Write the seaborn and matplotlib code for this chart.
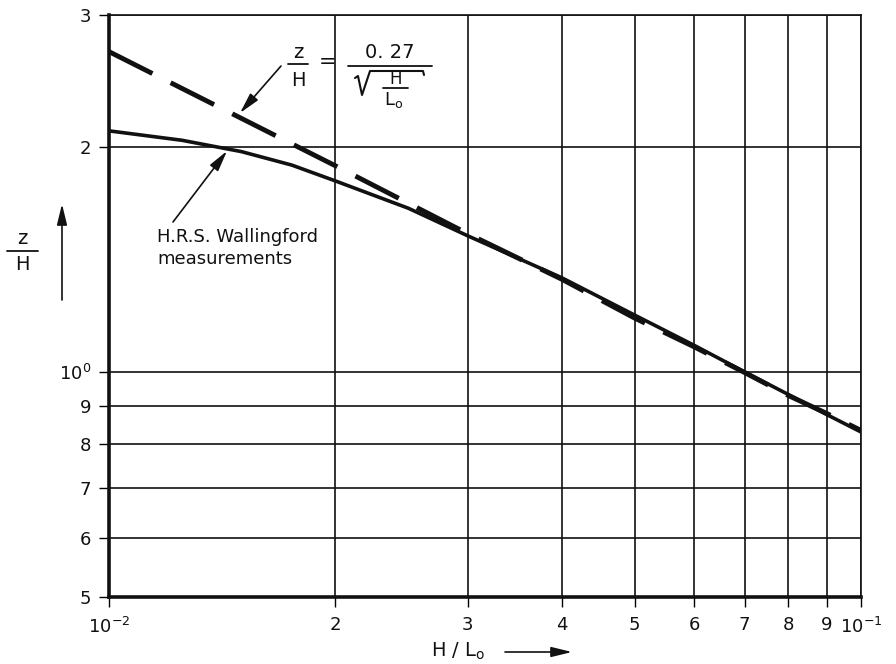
import matplotlib
matplotlib.use("Agg")
import matplotlib.pyplot as plt
from matplotlib.lines import Line2D
import seaborn as sns
import pandas as pd

# ---- data ----
x_measured = [0.010, 0.0125, 0.015, 0.0175, 0.020, 0.025, 0.030, 0.040, 0.050, 0.060, 0.070, 0.080, 0.090, 0.100]
y_measured = [2.10, 2.04, 1.97, 1.89, 1.80, 1.655, 1.52, 1.336, 1.191, 1.085, 1.00, 0.933, 0.877, 0.831]

x_formula = [0.010, 0.020, 0.030, 0.040, 0.050, 0.060, 0.070, 0.080, 0.090, 0.100]
y_formula = [2.68, 1.886, 1.53, 1.33, 1.18, 1.08, 0.998, 0.93, 0.88, 0.835]

xtick_values = [0.01, 0.02, 0.03, 0.04, 0.05, 0.06, 0.07, 0.08, 0.09, 0.1]
xtick_labels = [r"$10^{-2}$", "2", "3", "4", "5", "6", "7", "8", "9", r"$10^{-1}$"]
ytick_values = [0.5, 0.6, 0.7, 0.8, 0.9, 1.0, 2.0, 3.0]
ytick_labels = ["5", "6", "7", "8", "9", r"$10^{0}$", "2", "3"]

series_names = ["H.R.S. Wallingford measurements", "z/H = 0.27/sqrt(H/Lo)"]

df_meas = pd.DataFrame({"x": x_measured, "y": y_measured, "series": series_names[0]})
df_form = pd.DataFrame({"x": x_formula, "y": y_formula, "series": series_names[1]})

sns.set_style("ticks")
plt.rcParams["font.family"] = ["DejaVu Sans"]
plt.rcParams["mathtext.fontset"] = "dejavusans"

INK = "#111111"
W, H = 896, 664
fig = plt.figure(figsize=(W / 100, H / 100), dpi=100)
ax = fig.add_axes([109 / W, 1 - 597 / H, (861 - 109) / W, (597 - 15) / H])

ax.set_xscale("log")
ax.set_yscale("log")

sns.lineplot(data=df_meas, x="x", y="y", ax=ax, color=INK, lw=2.6,
             legend=False, estimator=None, sort=True)
sns.lineplot(data=df_form, x="x", y="y", ax=ax, color=INK, lw=3.5,
             legend=False, estimator=None, sort=True, linestyle=(0, (10, 4.2)))

ax.set_xlim(0.01, 0.1)
ax.set_ylim(0.5, 3.0)
ax.xaxis.set_minor_locator(matplotlib.ticker.NullLocator())
ax.yaxis.set_minor_locator(matplotlib.ticker.NullLocator())
ax.set_xticks(xtick_values)
ax.set_xticklabels(xtick_labels)
ax.set_yticks(ytick_values)
ax.set_yticklabels(ytick_labels)
ax.tick_params(axis="both", which="major", direction="out", length=7, width=1.0,
               color="black", labelsize=13, pad=6, labelcolor=INK)
ax.tick_params(axis="x", pad=7)
ax.grid(True, which="major", color=INK, lw=1.2)
ax.set_axisbelow(True)
ax.set_xlabel("")
ax.set_ylabel("")

for side, lw in [("left", 2.6), ("bottom", 2.6), ("top", 1.2), ("right", 1.2)]:
    ax.spines[side].set_visible(True)
    ax.spines[side].set_linewidth(lw)
    ax.spines[side].set_color(INK)


def fx(px):
    return px / W


def fy(py):
    return 1 - py / H


def ftext(px, py, s, size, **kw):
    fig.text(fx(px), fy(py), s, fontsize=size, ha=kw.pop("ha", "center"),
             va=kw.pop("va", "center"), color=INK, **kw)


def fline(xs, ys, lw=1.3):
    fig.add_artist(Line2D([fx(v) for v in xs], [fy(v) for v in ys],
                          transform=fig.transFigure, color=INK, lw=lw,
                          solid_capstyle="round", solid_joinstyle="round"))


ARROW = dict(arrowstyle="-|>,head_length=0.9,head_width=0.22", color=INK, lw=1.2,
             mutation_scale=14, shrinkA=0, shrinkB=0)


def farrow(x0, y0, x1, y1):
    ax.annotate("", xy=(fx(x1), fy(y1)), xycoords="figure fraction",
                xytext=(fx(x0), fy(y0)), textcoords="figure fraction",
                arrowprops=ARROW)


# ---- formula annotation: z/H = 0.27 / sqrt(H/Lo) ----
ftext(298, 52, "z", 14)
fline([288, 308], [64, 64])
ftext(298, 80, "H", 14)
ftext(328, 62, "=", 15)
ftext(390, 53, "0. 27", 14)
fline([348, 432], [66, 66])
fline([355, 358, 362, 370, 423, 424], [78, 76, 95, 71, 71, 75], lw=1.5)
ftext(396, 79, "H", 12)
fline([383, 408], [88, 88])
ftext(394, 100, r"L$_{\mathregular{o}}$", 13)
farrow(281, 66, 240, 113)

# ---- measurement annotation ----
ftext(157, 237, "H.R.S. Wallingford", 13, ha="left")
ftext(157, 259, "measurements", 13, ha="left")
farrow(173, 222, 227, 151)

# ---- axis labels ----
ftext(22, 238, "z", 14)
fline([7, 38], [251, 251])
ftext(22, 264, "H", 14)
farrow(62, 300, 62, 204)

ftext(458, 651, r"H / L$_{\mathregular{o}}$", 14)
farrow(505, 652, 572, 652)

fig.savefig("out.png", dpi=100)
